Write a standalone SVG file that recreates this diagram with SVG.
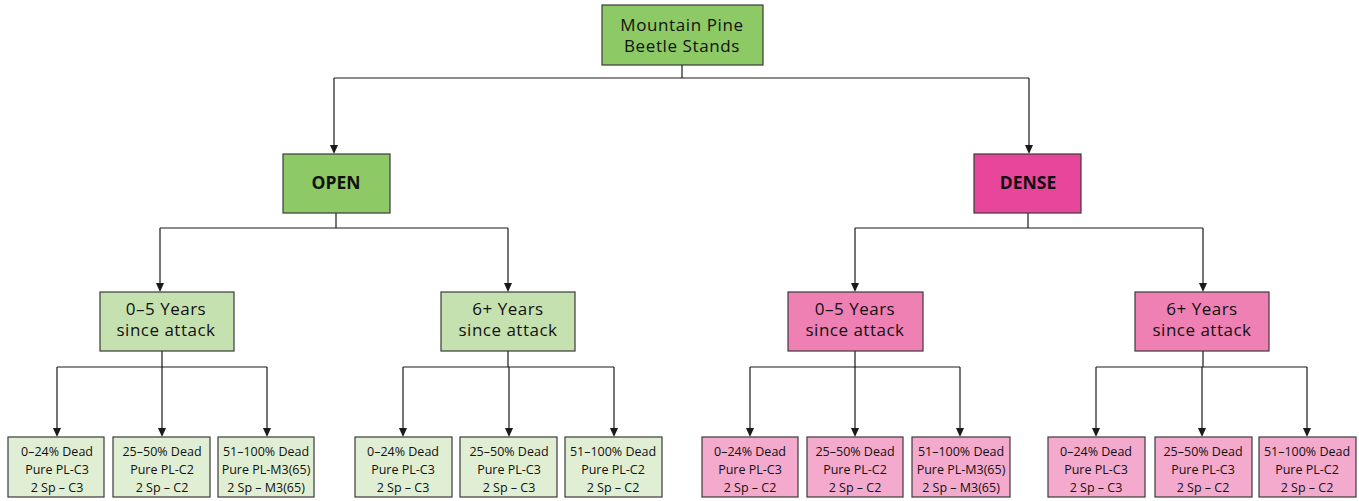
<svg xmlns="http://www.w3.org/2000/svg" width="1359" height="501" viewBox="0 0 1359 501">
<defs>
<style>
.box{stroke:#3a3a3a;stroke-width:1.2}
.g1{fill:#8dc965}
.g2{fill:#c6e1b0}
.g3{fill:#e0efd4}
.m1{fill:#e8469a}
.m2{fill:#ef80b3}
.m3{fill:#f4aacd}
text{font-family:"Open Sans","Noto Sans","Liberation Sans",sans-serif;fill:#111;text-anchor:middle}
.t1{font-size:17px;letter-spacing:0.6px}
.tb{font-size:17.5px;font-weight:bold}
.t2{font-size:17px;letter-spacing:0.5px}
.t3{font-size:12.5px}
.ln{fill:none;stroke:#1a1a1a;stroke-width:1.2}
.ah{fill:#1a1a1a}
</style>
</defs>
<g id="connectors">
<path class="ln" d="M682,65 V78 M334,78 H1029 M334,78 V148 M1029,78 V148"/>
<path class="ln" d="M336,213 V228 M160,228 H508 M160,228 V286 M508,228 V286"/>
<path class="ln" d="M1028,213 V228 M855,228 H1203 M855,228 V286 M1203,228 V286"/>
<path class="ln" d="M162,351 V367 M57,367 H267 M57,367 V431 M162,367 V431 M267,367 V431"/>
<path class="ln" d="M508,351 V367 M403,367 H614 M403,367 V431 M509,367 V431 M614,367 V431"/>
<path class="ln" d="M855,351 V367 M750,367 H960 M750,367 V431 M855,367 V431 M960,367 V431"/>
<path class="ln" d="M1203,351 V367 M1096,367 H1307 M1096,367 V431 M1202,367 V431 M1307,367 V431"/>
<g class="ah">
<path d="M330,145 L338,145 L334,154 Z"/>
<path d="M1025,145 L1033,145 L1029,154 Z"/>
<path d="M156,283 L164,283 L160,292 Z"/>
<path d="M504,283 L512,283 L508,292 Z"/>
<path d="M851,283 L859,283 L855,292 Z"/>
<path d="M1199,283 L1207,283 L1203,292 Z"/>
<path d="M53,428 L61,428 L57,437 Z"/>
<path d="M158,428 L166,428 L162,437 Z"/>
<path d="M263,428 L271,428 L267,437 Z"/>
<path d="M399,428 L407,428 L403,437 Z"/>
<path d="M505,428 L513,428 L509,437 Z"/>
<path d="M610,428 L618,428 L614,437 Z"/>
<path d="M746,428 L754,428 L750,437 Z"/>
<path d="M851,428 L859,428 L855,437 Z"/>
<path d="M956,428 L964,428 L960,437 Z"/>
<path d="M1092,428 L1100,428 L1096,437 Z"/>
<path d="M1198,428 L1206,428 L1202,437 Z"/>
<path d="M1303,428 L1311,428 L1307,437 Z"/>
</g>
</g>
<g id="root"><rect class="box g1" x="602" y="5" width="161" height="60"/><text class="t1" x="682" y="31">Mountain Pine</text><text class="t1" x="682" y="52">Beetle Stands</text></g>
<g id="open"><rect class="box g1" x="283" y="154" width="107" height="59"/><text class="tb" x="336" y="189">OPEN</text></g>
<g id="dense"><rect class="box m1" x="974" y="154" width="107" height="59"/><text class="tb" x="1028" y="189">DENSE</text></g>
<g id="open-0-5"><rect class="box g2" x="100" y="292" width="134" height="59"/><text class="t2" x="166" y="315">0–5 Years</text><text class="t2" x="166" y="336">since attack</text></g>
<g id="open-6"><rect class="box g2" x="441" y="292" width="134" height="59"/><text class="t2" x="508" y="315">6+ Years</text><text class="t2" x="508" y="336">since attack</text></g>
<g id="dense-0-5"><rect class="box m2" x="788" y="292" width="135" height="59"/><text class="t2" x="855" y="315">0–5 Years</text><text class="t2" x="855" y="336">since attack</text></g>
<g id="dense-6"><rect class="box m2" x="1135" y="292" width="134" height="59"/><text class="t2" x="1202" y="315">6+ Years</text><text class="t2" x="1202" y="336">since attack</text></g>
<g id="o1a"><rect class="box g3" x="8" y="437" width="96" height="60"/><text class="t3" x="57" y="456">0–24% Dead</text><text class="t3" x="57" y="474">Pure PL-C3</text><text class="t3" x="57" y="492">2 Sp – C3</text></g>
<g id="o1b"><rect class="box g3" x="113" y="437" width="97" height="60"/><text class="t3" x="162" y="456">25–50% Dead</text><text class="t3" x="162" y="474">Pure PL-C2</text><text class="t3" x="162" y="492">2 Sp – C2</text></g>
<g id="o1c"><rect class="box g3" x="218" y="437" width="96" height="60"/><text class="t3" x="266" y="456">51–100% Dead</text><text class="t3" x="266" y="474">Pure PL-M3(65)</text><text class="t3" x="266" y="492">2 Sp – M3(65)</text></g>
<g id="o2a"><rect class="box g3" x="355" y="437" width="97" height="60"/><text class="t3" x="403" y="456">0–24% Dead</text><text class="t3" x="403" y="474">Pure PL-C3</text><text class="t3" x="403" y="492">2 Sp – C3</text></g>
<g id="o2b"><rect class="box g3" x="460" y="437" width="97" height="60"/><text class="t3" x="509" y="456">25–50% Dead</text><text class="t3" x="509" y="474">Pure PL-C3</text><text class="t3" x="509" y="492">2 Sp – C3</text></g>
<g id="o2c"><rect class="box g3" x="565" y="437" width="97" height="60"/><text class="t3" x="613" y="456">51–100% Dead</text><text class="t3" x="613" y="474">Pure PL-C2</text><text class="t3" x="613" y="492">2 Sp – C2</text></g>
<g id="d1a"><rect class="box m3" x="702" y="437" width="96" height="60"/><text class="t3" x="750" y="456">0–24% Dead</text><text class="t3" x="750" y="474">Pure PL-C3</text><text class="t3" x="750" y="492">2 Sp – C2</text></g>
<g id="d1b"><rect class="box m3" x="807" y="437" width="96" height="60"/><text class="t3" x="855" y="456">25–50% Dead</text><text class="t3" x="855" y="474">Pure PL-C2</text><text class="t3" x="855" y="492">2 Sp – C2</text></g>
<g id="d1c"><rect class="box m3" x="912" y="437" width="98" height="60"/><text class="t3" x="961" y="456">51–100% Dead</text><text class="t3" x="961" y="474">Pure PL-M3(65)</text><text class="t3" x="961" y="492">2 Sp – M3(65)</text></g>
<g id="d2a"><rect class="box m3" x="1048" y="437" width="97" height="60"/><text class="t3" x="1096" y="456">0–24% Dead</text><text class="t3" x="1096" y="474">Pure PL-C3</text><text class="t3" x="1096" y="492">2 Sp – C3</text></g>
<g id="d2b"><rect class="box m3" x="1155" y="437" width="97" height="60"/><text class="t3" x="1203" y="456">25–50% Dead</text><text class="t3" x="1203" y="474">Pure PL-C3</text><text class="t3" x="1203" y="492">2 Sp – C2</text></g>
<g id="d2c"><rect class="box m3" x="1259" y="437" width="97" height="60"/><text class="t3" x="1307" y="456">51–100% Dead</text><text class="t3" x="1307" y="474">Pure PL-C2</text><text class="t3" x="1307" y="492">2 Sp – C2</text></g>
</svg>
